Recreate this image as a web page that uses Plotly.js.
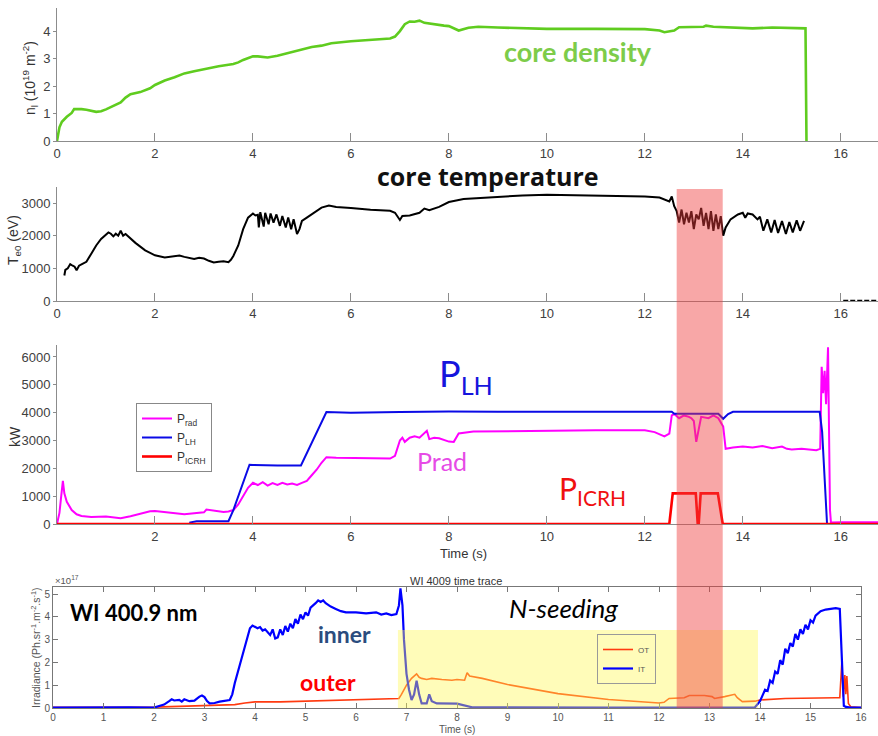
<!DOCTYPE html>
<html>
<head>
<meta charset="utf-8">
<script src="https://cdn.plot.ly/plotly-3.0.1.min.js"></script>
<style>html,body{margin:0;padding:0;background:#fff;}#chart{width:878px;height:736px;}</style>
</head>
<body>
<div id="chart"></div>
<script>
// ---------- Panel 1: core line density ----------
const t_n = [0,0.05,0.1,0.2,0.3,0.35,0.5,0.6,0.8,0.9,
  1.0,1.1,1.2,1.3,1.4,1.5,1.7,1.9,2.0,2.2,
  2.4,2.6,2.8,3.0,3.3,3.6,3.7,3.8,4.0,4.1,
  4.3,4.5,4.8,5.0,5.2,5.4,5.6,6.0,6.4,6.8,
  6.9,7.0,7.1,7.2,7.3,7.4,7.5,7.6,7.9,8.0,
  8.2,8.4,8.6,9.0,10,11,12,12.3,12.4,12.6,
  12.7,13.2,13.25,13.4,14,14.2,14.6,15.0,15.28,15.3];
const n_l = [0,0.5,0.7,0.88,1.02,1.16,1.16,1.14,1.06,1.08,
  1.15,1.24,1.3,1.4,1.58,1.7,1.78,1.92,2.04,2.2,
  2.32,2.46,2.54,2.62,2.72,2.8,2.86,2.95,3.08,3.08,
  3.04,3.1,3.24,3.32,3.42,3.47,3.56,3.63,3.68,3.73,
  3.8,4.0,4.25,4.35,4.34,4.38,4.3,4.27,4.2,4.18,
  4.02,4.12,4.16,4.13,4.08,4.08,4.07,4.02,3.96,4.02,
  4.14,4.16,4.2,4.16,4.12,4.1,4.13,4.12,4.1,0];

// ---------- Panel 2: core electron temperature ----------
const t_te = [0.15,0.17,0.22,0.27,0.32,0.36,0.4,0.45,0.5,0.6,
  0.7,0.8,0.9,1.0,1.05,1.1,1.15,1.2,1.25,1.3,
  1.35,1.4,1.5,1.6,1.8,2.0,2.2,2.4,2.5,2.6,
  2.7,2.8,2.9,3.0,3.1,3.2,3.3,3.4,3.5,3.55,
  3.6,3.7,3.8,3.9,4.0,4.05,4.1,
  4.12,4.15,4.22,4.25,4.32,4.36,4.42,4.48,4.55,4.6,
  4.67,4.72,4.78,4.83,4.9,4.95,5.0,5.1,5.2,5.3,
  5.4,5.55,5.7,6.0,6.4,6.8,6.9,7.0,7.05,7.2,
  7.4,7.5,7.6,7.8,8.0,8.3,8.6,9.0,9.5,10,
  11,12,12.3,12.5,12.55,12.6,12.65,
  12.7,12.75,12.8,12.85,12.9,12.95,13.0,13.05,13.1,13.15,
  13.2,13.25,13.3,13.35,13.4,13.45,13.5,13.55,13.6,13.65,
  13.75,13.9,14.0,14.05,14.1,14.2,14.3,14.35,14.42,14.5,
  14.58,14.65,14.72,14.8,14.88,14.95,15.02,15.1,15.17,15.25];
const te0 = [780,950,1000,1130,1080,1050,940,1080,1120,1200,
  1450,1700,1900,2050,2100,2060,1980,2060,2000,2150,
  2000,2050,1900,1780,1550,1400,1330,1360,1390,1350,
  1320,1290,1320,1300,1230,1180,1200,1220,1190,1260,
  1380,1700,2200,2550,2680,2620,2640,
  2250,2720,2280,2700,2350,2680,2400,2650,2300,2600,
  2250,2560,2200,2500,2050,2200,2450,2550,2650,2750,
  2860,2920,2880,2850,2790,2760,2700,2480,2600,2620,
  2700,2830,2780,2880,3030,3120,3150,3170,3230,3250,
  3230,3200,3170,3050,3200,2900,2750,
  2400,2800,2350,2700,2400,2750,2200,2650,2500,2850,
  2300,2700,2200,2750,2150,2650,2200,2600,2000,2250,
  2500,2650,2700,2550,2680,2650,2500,2580,2150,2500,
  2100,2480,2080,2450,2050,2420,2100,2470,2150,2450];
const t_te_tail = [16.05,16.76];
const te0_tail = [0,0];

// ---------- Panel 3: powers (kW) ----------
const t_prad = [0,0.05,0.08,0.12,0.15,0.2,0.3,0.4,0.5,0.7,
  1.0,1.2,1.3,1.5,1.7,1.9,2.0,2.2,2.4,2.6,
  2.8,3.0,3.05,3.2,3.4,3.5,3.6,3.7,3.8,3.9,
  4.0,4.1,4.2,4.3,4.4,4.5,4.6,4.7,4.8,4.9,
  5.0,5.1,5.2,5.3,5.4,5.5,5.7,6.0,6.4,6.8,
  6.9,7.0,7.05,7.1,7.2,7.3,7.4,7.5,7.55,7.6,
  7.7,7.8,8.0,8.1,8.2,8.5,9,10,11,12,
  12.2,12.4,12.5,12.55,12.6,12.7,12.8,12.9,12.95,13.0,
  13.05,13.1,13.15,13.3,13.4,13.5,13.6,13.65,13.8,14,
  14.2,14.4,14.6,14.8,14.9,15.0,15.2,15.5,15.58,15.61,
  15.64,15.67,15.7,15.74,15.76,15.78,15.8,16,16.76];
const p_rad = [0,400,900,1550,1100,800,500,350,290,250,
  270,240,210,280,380,460,470,430,380,350,
  390,420,520,480,430,450,500,700,1000,1300,
  1480,1400,1500,1380,1470,1400,1480,1420,1450,1400,
  1480,1550,1750,1950,2200,2400,2380,2370,2360,2350,
  2450,3000,3100,2950,3100,3150,3100,3250,3350,3050,
  3100,3080,2960,2950,3250,3320,3330,3360,3370,3370,
  3300,3150,3250,3900,3950,3800,3900,3850,3800,3700,
  2950,3400,3850,3800,3900,3800,3500,2700,2750,2780,
  2750,2800,2720,2780,2700,2680,2700,2650,2700,5650,
  4700,5500,4300,6350,3000,500,50,60,60];
const t_plh = [2.7,2.85,3.5,3.6,3.93,4.0,4.5,4.98,5.5,6,
  7,8,9,10,11,12,12.55,12.6,13.0,13.5,
  13.6,13.7,13.8,14.5,15.57,15.62,15.66,15.72];
const p_lh = [50,100,100,500,2130,2120,2100,2100,4020,4000,
  4020,4040,4030,4040,4030,4030,4030,3960,3950,3960,
  3780,3950,4030,4030,4030,3300,2000,0];
const t_icrh = [0,12.5,12.57,13.04,13.08,13.1,13.14,13.49,13.59,16.76];
const p_icrh = [0,0,1100,1100,0,0,1100,1100,0,0];

// ---------- Panel 4: WI 400.9 nm irradiance (x1e17) ----------
const t_it = [0,0.5,1.0,1.5,2.0,2.1,2.2,2.3,2.35,2.4,
  2.5,2.55,2.6,2.7,2.8,2.9,2.95,3.0,3.05,3.1,
  3.2,3.3,3.4,3.5,3.55,3.6,3.7,3.75,3.8,3.85,
  3.9,3.95,4.0,4.05,4.1,4.15,4.2,4.3,4.35,4.4,
  4.45,4.5,4.55,4.6,4.65,4.7,4.75,4.8,4.85,4.9,
  4.95,5.0,5.05,5.1,5.2,5.25,5.3,5.35,5.4,5.5,
  5.6,5.7,5.8,6.0,6.2,6.4,6.5,6.6,6.7,6.8,
  6.85,6.88,6.92,6.95,7.0,7.05,7.1,7.15,7.2,7.25,
  7.3,7.4,7.45,7.5,7.6,7.8,8.0,8.3,9,10,
  11,12,13,13.9,14.0,14.1,14.15,14.2,14.25,14.3,
  14.35,14.4,14.45,14.5,14.55,14.6,14.65,14.7,14.75,14.8,
  14.85,14.9,14.95,15.0,15.05,15.1,15.2,15.3,15.4,15.5,
  15.58,15.62,15.66,15.7,15.8,16];
const irr_it = [0.02,0.03,0.02,0.03,0.02,0.08,0.15,0.3,0.38,0.33,
  0.36,0.28,0.38,0.3,0.32,0.5,0.55,0.48,0.3,0.2,
  0.22,0.28,0.3,0.35,0.6,1.1,1.9,2.3,2.8,3.2,
  3.5,3.62,3.55,3.5,3.55,3.4,3.45,3.2,3.45,3.05,
  3.1,3.45,3.2,3.6,3.35,3.7,3.5,3.9,3.7,4.1,
  3.9,4.2,4.05,4.4,4.6,4.72,4.65,4.72,4.6,4.45,
  4.35,4.25,4.2,4.2,4.15,4.2,4.1,4.15,4.08,4.12,
  4.5,5.25,4.5,3.0,1.5,0.8,0.35,0.6,1.2,0.6,
  0.2,0.2,0.6,0.3,0.2,0.2,0.19,0.03,0.02,0.02,
  0.02,0.02,0.02,0.03,0.3,0.8,0.75,1.2,1.1,1.6,
  1.5,2.1,1.9,2.6,2.4,2.85,2.7,3.25,3.0,3.45,
  3.25,3.65,3.45,3.85,3.75,4.05,4.25,4.32,4.35,4.38,
  4.35,2.0,0.1,0.05,0.02,0.02];
const t_ot = [0,1,2.0,2.5,3.0,3.5,3.6,3.8,4.0,4.5,
  5.0,5.5,6.0,6.5,6.8,6.85,6.9,7.0,7.1,7.15,
  7.2,7.25,7.3,7.4,7.5,7.7,7.9,8.0,8.15,8.2,
  8.25,8.5,9,10,11,12,12.1,12.2,12.5,12.6,
  12.9,13.05,13.1,13.3,13.5,13.55,13.65,13.9,14.0,14.5,
  15,15.5,15.58,15.62,15.65,15.68,15.7,15.72,15.75,15.8,
  16];
const irr_ot = [0.03,0.03,0.04,0.07,0.1,0.12,0.15,0.22,0.27,0.27,
  0.3,0.35,0.38,0.38,0.4,0.42,0.6,1.0,1.3,1.4,
  1.5,1.35,1.3,1.25,1.3,1.25,1.22,1.25,1.22,1.55,
  1.4,1.3,1.03,0.63,0.37,0.22,0.25,0.42,0.45,0.55,
  0.55,0.5,0.42,0.5,0.6,0.45,0.28,0.3,0.35,0.42,
  0.45,0.45,0.45,2.0,0.5,1.45,0.6,1.4,0.2,0.05,
  0.02];

// Highlighted intervals
const icrhBand = [12.65, 13.59];       // in panel 1-3 time axis
const seedWindow = [6.83, 13.96];      // N-seeding window, panel 4 time axis
const seedLevel = 3.42;

const tick_main = [0,2,4,6,8,10,12,14,16];
const tick_p3 = [2,4,6,8,10,12,14,16];
const tick_p4x = [0,1,2,3,4,5,6,7,8,9,10,11,12,13,14,15,16];

// length check
[[t_n,n_l,'n'],[t_te,te0,'te'],[t_prad,p_rad,'prad'],[t_plh,p_lh,'plh'],[t_icrh,p_icrh,'icrh'],[t_it,irr_it,'it'],[t_ot,irr_ot,'ot']].forEach(a=>{
  if(a[0].length!==a[1].length) throw new Error('length mismatch '+a[2]+' '+a[0].length+' vs '+a[1].length);
});

const W=878, H=736;
const px = x => x/W;
const py = y => 1 - y/H;

const TF = 'Liberation Sans, Arial, sans-serif';
const tickFont = {family:TF, size:13, color:'#404040'};
const tickFont4 = {family:TF, size:10, color:'#555'};
const AX = '#8c8c8c';

const traces = [
  {x:t_n, y:n_l, xaxis:'x', yaxis:'y', mode:'lines', line:{color:'#5fcc1f', width:2.6}, showlegend:false},
  {x:t_te, y:te0, xaxis:'x2', yaxis:'y2', mode:'lines', line:{color:'#000', width:2}, showlegend:false},
  {x:t_te_tail, y:te0_tail, xaxis:'x2', yaxis:'y2', mode:'lines', line:{color:'#000', width:2.5, dash:'5px,2px'}, showlegend:false},
  {x:t_prad, y:p_rad, xaxis:'x3', yaxis:'y3', mode:'lines', name:'P<sub>rad</sub>', line:{color:'#ff00ff', width:2}, legend:'legend'},
  {x:t_plh, y:p_lh, xaxis:'x3', yaxis:'y3', mode:'lines', name:'P<sub>LH</sub>', line:{color:'#0a0ae6', width:2}, legend:'legend'},
  {x:t_icrh, y:p_icrh, xaxis:'x3', yaxis:'y3', mode:'lines', name:'P<sub>ICRH</sub>', line:{color:'#ff0000', width:2.6}, legend:'legend'},
  {x:t_ot, y:irr_ot, xaxis:'x4', yaxis:'y4', mode:'lines', name:'OT', line:{color:'#ff3a10', width:1.6}, legend:'legend2'},
  {x:t_it, y:irr_it, xaxis:'x4', yaxis:'y4', mode:'lines', name:'IT', line:{color:'#0000ff', width:2.2}, legend:'legend2'}
];

function mainX(dom, anchor, vals){
  return {domain:dom, anchor:anchor, range:[0,16.76], showline:true, linecolor:AX, linewidth:1,
    ticks:'inside', ticklen:8, tickcolor:AX, tickvals:vals, ticktext:vals.map(String),
    tickfont:tickFont, showgrid:false, zeroline:false, fixedrange:true};
}
function mainY(dom, anchor, range, vals){
  return {domain:dom, anchor:anchor, range:range, showline:true, linecolor:AX, linewidth:1,
    ticks:'outside', ticklen:3, tickcolor:AX, tickvals:vals, ticktext:vals.map(String),
    tickfont:tickFont, showgrid:false, zeroline:false, fixedrange:true};
}

const xd = [px(57), 1];
const layout = {
  width:W, height:H, margin:{l:0,r:0,t:0,b:0},
  paper_bgcolor:'#fff', plot_bgcolor:'rgba(0,0,0,0)',
  xaxis: mainX(xd,'y',tick_main),
  yaxis: mainY([py(141),py(8)],'x',[0,4.84],[0,1,2,3,4]),
  xaxis2: mainX(xd,'y2',tick_main),
  yaxis2: mainY([py(301),py(187)],'x2',[0,3490],[0,1000,2000,3000]),
  xaxis3: mainX(xd,'y3',tick_p3),
  yaxis3: mainY([py(524),py(345)],'x3',[0,6430],[0,1000,2000,3000,4000,5000,6000]),
  xaxis4: {domain:[px(53),px(861)], anchor:'y4', range:[0,16], showline:true, mirror:'ticks', linecolor:'#777', linewidth:1,
    ticks:'inside', ticklen:5, tickcolor:'#777', tickvals:tick_p4x, ticktext:tick_p4x.map(String), tickfont:tickFont4,
    showgrid:false, zeroline:false, fixedrange:true},
  yaxis4: {domain:[py(708),py(587)], anchor:'x4', range:[0,5.31], showline:true, mirror:'ticks', linecolor:'#777', linewidth:1,
    ticks:'inside', ticklen:5, tickcolor:'#777', tickvals:[0,1,2,3,4,5], ticktext:['0','1','2','3','4','5'], tickfont:tickFont4,
    showgrid:false, zeroline:false, fixedrange:true},
  legend: {x:px(136), y:py(403), xanchor:'left', yanchor:'top', bgcolor:'#fff', bordercolor:'#888', borderwidth:1,
    font:{family:TF, size:12, color:'#333'}, itemwidth:30, tracegroupgap:0},
  legend2: {x:px(597), y:py(634), xanchor:'left', yanchor:'top', bgcolor:'rgba(255,255,255,0)', bordercolor:'#999', borderwidth:1,
    font:{family:TF, size:8, color:'#555'}, itemwidth:30, tracegroupgap:0},
  shapes: [
    {type:'rect', xref:'x4', yref:'y4', x0:seedWindow[0], x1:seedWindow[1], y0:0, y1:seedLevel,
      fillcolor:'rgba(255,248,80,0.4)', line:{width:0}, layer:'above'},
    {type:'rect', xref:'x', yref:'paper', x0:icrhBand[0], x1:icrhBand[1], y0:py(708), y1:py(189),
      fillcolor:'rgba(240,60,60,0.45)', line:{width:0}, layer:'above'}
  ],
  annotations: [
    {text:'n<sub>l</sub> (10<sup>19</sup> m<sup>-2</sup>)', x:px(30), y:py(78), textangle:-90, font:{family:TF,size:14,color:'#333'}},
    {text:'T<sub>e0</sub> (eV)', x:px(14), y:py(240), textangle:-90, font:{family:TF,size:14,color:'#333'}},
    {text:'kW', x:px(15), y:py(437), textangle:-90, font:{family:TF,size:14,color:'#333'}},
    {text:'Time (s)', x:px(463), y:py(553), font:{family:TF,size:13,color:'#333'}},
    {text:'Irradiance (Ph.sr<sup>-1</sup>.m<sup>-2</sup>.s<sup>-1</sup>)', x:px(35), y:py(648), textangle:-90, font:{family:TF,size:10.5,color:'#555'}},
    {text:'×10<sup>17</sup>', x:px(67), y:py(580), font:{family:TF,size:9.5,color:'#555'}},
    {text:'WI 4009 time trace', x:px(456), y:py(581), font:{family:TF,size:11,color:'#333'}},
    {text:'Time (s)', x:px(457), y:py(729), font:{family:TF,size:10,color:'#555'}},
    {text:'<b>core density</b>', x:px(578), y:py(51), font:{family:'Lato, sans-serif',size:27,color:'#7dcc4a'}},
    {text:'<b>core temperature</b>', x:px(488), y:py(176), font:{family:'Open Sans, sans-serif',size:25,color:'#111'}},
    {text:'P<sub>LH</sub>', x:px(466), y:py(375), font:{family:'Lato, sans-serif',size:36,color:'#1515dd'}},
    {text:'P<sub>ICRH</sub>', x:px(592), y:py(490), font:{family:'Lato, sans-serif',size:30,color:'#f01010'}},
    {text:'Prad', x:px(442), y:py(461), font:{family:'Lato, sans-serif',size:25,color:'#e64be6'}},
    {text:'<b>WI 400.9 nm</b>', x:px(133), y:py(612), font:{family:'Lato, sans-serif',size:22,color:'#000'}},
    {text:'<b>inner</b>', x:px(344), y:py(634), font:{family:'Lato, sans-serif',size:23,color:'#2b4c7e'}},
    {text:'<b>outer</b>', x:px(328), y:py(682), font:{family:'Lato, sans-serif',size:23,color:'#ff0000'}},
    {text:'<i>N-seeding</i>', x:px(563), y:py(608), font:{family:'Lato, sans-serif',size:26,color:'#000'}}
  ].map(a=>Object.assign({xref:'paper', yref:'paper', showarrow:false, xanchor:'center', yanchor:'middle'}, a))
};

Plotly.newPlot('chart', traces, layout, {displayModeBar:false, staticPlot:true});
</script>
</body>
</html>
